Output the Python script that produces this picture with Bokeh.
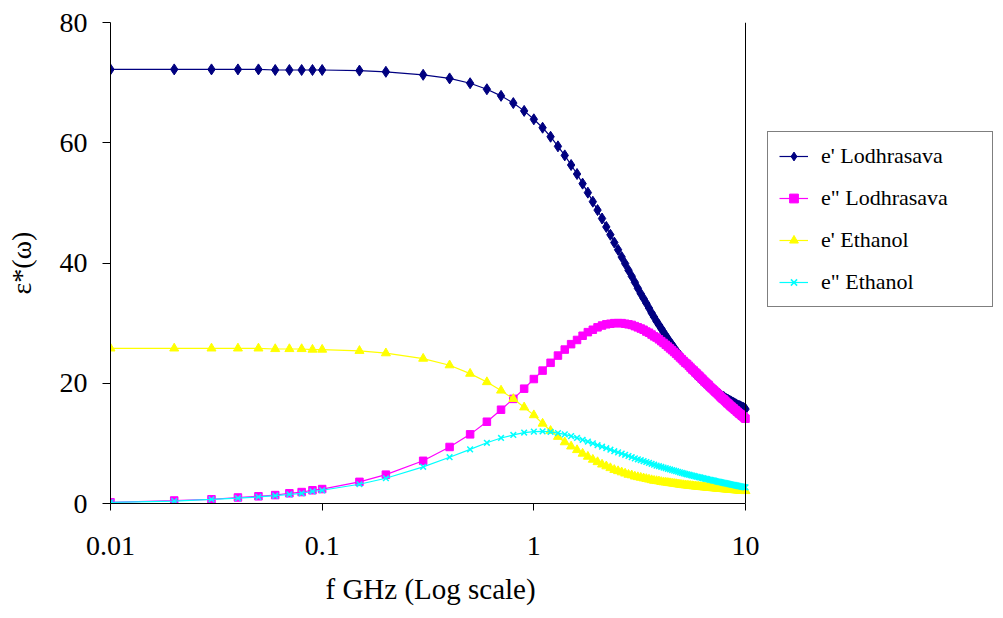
from bokeh.plotting import figure
from bokeh.models import (Range1d, FixedTicker, Legend, LegendItem, Span, ColumnDataSource, Title)
from bokeh.embed import file_html
from bokeh.resources import INLINE

# ---------------- data ----------------
freq = [0.01, 0.02, 0.03, 0.04, 0.05, 0.06, 0.07, 0.08, 0.09, 0.1,
        0.15, 0.2, 0.3, 0.4, 0.5, 0.6, 0.7, 0.8, 0.9, 1.0,
        1.1, 1.2, 1.3, 1.4, 1.5, 1.6, 1.7, 1.8, 1.9, 2.0,
        2.1, 2.2, 2.3, 2.4, 2.5, 2.6, 2.7, 2.8, 2.9, 3.0,
        3.1, 3.2, 3.3, 3.4, 3.5, 3.6, 3.7, 3.8, 3.9, 4.0,
        4.1, 4.2, 4.3, 4.4, 4.5, 4.6, 4.7, 4.8, 4.9, 5.0,
        5.1, 5.2, 5.3, 5.4, 5.5, 5.6, 5.7, 5.8, 5.9, 6.0,
        6.1, 6.2, 6.3, 6.4, 6.5, 6.6, 6.7, 6.8, 6.9, 7.0,
        7.1, 7.2, 7.3, 7.4, 7.5, 7.6, 7.7, 7.8, 7.9, 8.0,
        8.1, 8.2, 8.3, 8.4, 8.5, 8.6, 8.7, 8.8, 8.9, 9.0,
        9.1, 9.2, 9.3, 9.4, 9.5, 9.6, 9.7, 9.8, 9.9, 10.0]

e1_lodhrasava = [72.2, 72.2, 72.2, 72.2, 72.2, 72.1, 72.1, 72.1, 72.1, 72.1,
                 72.0, 71.8, 71.3, 70.7, 69.9, 68.9, 67.8, 66.6, 65.3, 63.9,
                 62.5, 61.0, 59.4, 57.9, 56.3, 54.8, 53.2, 51.7, 50.2, 48.8,
                 47.4, 46.0, 44.7, 43.4, 42.2, 41.0, 39.9, 38.8, 37.8, 36.8,
                 35.8, 34.9, 34.1, 33.3, 32.5, 31.7, 31.0, 30.3, 29.7, 29.1,
                 28.5, 27.9, 27.4, 26.8, 26.4, 25.9, 25.4, 25.0, 24.6, 24.2,
                 23.8, 23.5, 23.1, 22.8, 22.5, 22.2, 21.9, 21.6, 21.3, 21.1,
                 20.8, 20.6, 20.4, 20.1, 19.9, 19.7, 19.5, 19.3, 19.2, 19.0,
                 18.8, 18.7, 18.5, 18.3, 18.2, 18.1, 17.9, 17.8, 17.7, 17.5,
                 17.4, 17.3, 17.2, 17.1, 17.0, 16.9, 16.8, 16.7, 16.6, 16.5,
                 16.4, 16.3, 16.2, 16.2, 16.1, 16.0, 15.9, 15.9, 15.8, 15.7]

e2_lodhrasava = [0.2, 0.5, 0.7, 1.0, 1.2, 1.4, 1.7, 1.9, 2.2, 2.4,
                 3.6, 4.8, 7.1, 9.4, 11.5, 13.6, 15.6, 17.4, 19.1, 20.7,
                 22.1, 23.4, 24.6, 25.6, 26.5, 27.2, 27.9, 28.5, 28.9, 29.3,
                 29.6, 29.8, 29.9, 30.0, 30.0, 30.0, 29.9, 29.8, 29.7, 29.5,
                 29.3, 29.1, 28.9, 28.6, 28.4, 28.1, 27.8, 27.6, 27.3, 27.0,
                 26.7, 26.4, 26.1, 25.8, 25.5, 25.2, 24.9, 24.6, 24.3, 24.0,
                 23.7, 23.4, 23.2, 22.9, 22.6, 22.3, 22.1, 21.8, 21.6, 21.3,
                 21.1, 20.8, 20.6, 20.3, 20.1, 19.9, 19.7, 19.4, 19.2, 19.0,
                 18.8, 18.6, 18.4, 18.2, 18.0, 17.8, 17.6, 17.4, 17.3, 17.1,
                 16.9, 16.7, 16.6, 16.4, 16.2, 16.1, 15.9, 15.8, 15.6, 15.5,
                 15.3, 15.2, 15.0, 14.9, 14.8, 14.6, 14.5, 14.4, 14.2, 14.1]

e1_ethanol = [25.8, 25.8, 25.8, 25.8, 25.8, 25.7, 25.7, 25.7, 25.6, 25.6,
              25.4, 25.0, 24.1, 23.0, 21.6, 20.2, 18.8, 17.4, 16.0, 14.7,
              13.3, 12.1, 11.1, 10.2, 9.5, 8.9, 8.3, 7.8, 7.3, 6.9,
              6.5, 6.2, 5.9, 5.6, 5.4, 5.2, 5.0, 4.8, 4.7, 4.5,
              4.4, 4.3, 4.2, 4.1, 4.0, 3.9, 3.8, 3.75, 3.7, 3.6,
              3.55, 3.5, 3.45, 3.4, 3.35, 3.3, 3.25, 3.2, 3.15, 3.1,
              3.07, 3.04, 3.0, 2.97, 2.94, 2.91, 2.88, 2.85, 2.82, 2.8,
              2.77, 2.75, 2.72, 2.7, 2.68, 2.65, 2.63, 2.61, 2.59, 2.57,
              2.55, 2.53, 2.51, 2.49, 2.47, 2.45, 2.43, 2.42, 2.4, 2.38,
              2.36, 2.35, 2.33, 2.31, 2.3, 2.28, 2.27, 2.25, 2.24, 2.22,
              2.21, 2.19, 2.18, 2.16, 2.15, 2.14, 2.12, 2.11, 2.1, 2.08]

e2_ethanol = [0.2, 0.4, 0.7, 0.9, 1.1, 1.3, 1.5, 1.7, 2.0, 2.2,
              3.2, 4.2, 6.1, 7.7, 9.0, 10.1, 10.9, 11.4, 11.8, 11.95,
              12.0, 11.9, 11.7, 11.5, 11.2, 10.9, 10.6, 10.3, 10.0, 9.7,
              9.45, 9.2, 8.95, 8.7, 8.5, 8.3, 8.1, 7.9, 7.7, 7.5,
              7.35, 7.2, 7.05, 6.9, 6.75, 6.6, 6.45, 6.3, 6.2, 6.1,
              5.98, 5.87, 5.76, 5.66, 5.56, 5.46, 5.37, 5.28, 5.19, 5.1,
              5.02, 4.94, 4.86, 4.79, 4.72, 4.65, 4.58, 4.51, 4.45, 4.39,
              4.33, 4.27, 4.21, 4.15, 4.1, 4.04, 3.99, 3.94, 3.89, 3.84,
              3.79, 3.74, 3.69, 3.65, 3.6, 3.56, 3.51, 3.47, 3.43, 3.39,
              3.35, 3.31, 3.27, 3.23, 3.19, 3.15, 3.12, 3.08, 3.04, 3.01,
              2.97, 2.94, 2.9, 2.87, 2.84, 2.8, 2.77, 2.74, 2.71, 2.68]

series_labels = ["e' Lodhrasava", 'e" Lodhrasava', "e' Ethanol", 'e" Ethanol']

x_ticks = [0.01, 0.1, 1, 10]
x_tick_labels = ["0.01", "0.1", "1", "10"]
y_ticks = [0, 20, 40, 60, 80]

x_title = "f GHz (Log scale)"
y_title = "ε*(ω)"

# ---------------- layout (pixels) ----------------
W, H = 1003, 618
FRAME_L, AXIS_R, FRAME_R = 110, 745, 1001   # axis spans FRAME_L..AXIS_R
FRAME_T, FRAME_B = 22, 503
XTITLE_L = 325
x_start, x_axis_end = x_ticks[0], x_ticks[-1]
decades = 3.0  # 0.01 .. 10
px_per_decade = (AXIS_R - FRAME_L) / decades
x_end = x_axis_end * 10 ** ((FRAME_R - AXIS_R) / px_per_decade)

FONT = "Liberation Serif"

p = figure(width=W, height=H, x_axis_type="log",
           x_range=Range1d(x_start, x_end), y_range=Range1d(0, 80),
           output_backend="svg", toolbar_location=None,
           min_border_left=FRAME_L, min_border_right=W - FRAME_R,
           min_border_top=FRAME_T, min_border_bottom=H - FRAME_B)
p.outline_line_color = None
p.background_fill_color = "white"
p.border_fill_color = "white"
p.xgrid.visible = False
p.ygrid.visible = False

# right border of the plot area
p.add_layout(Span(location=x_axis_end, dimension="height", line_color="black", line_width=1))

xa = p.xaxis[0]
xa.bounds = (x_start, x_axis_end)
xa.ticker = FixedTicker(ticks=x_ticks, minor_ticks=[])
xa.major_label_overrides = dict(zip(x_ticks, x_tick_labels))
xa.major_tick_out = 7
xa.major_tick_in = 0
xa.minor_tick_out = 0
xa.minor_tick_in = 0
xa.axis_line_color = "black"
xa.major_tick_line_color = "black"
xa.major_label_text_font = FONT
xa.major_label_text_font_size = "28px"
xa.major_label_text_color = "black"
xa.major_label_standoff = 26

# x-axis title, placed under the bounded axis
xt = Title(text=x_title, align="left", offset=XTITLE_L - FRAME_L,
           text_font=FONT, text_font_size="29px", text_font_style="normal",
           text_color="black", standoff=26)
p.add_layout(xt, "below")

ya = p.yaxis[0]
ya.ticker = FixedTicker(ticks=y_ticks, minor_ticks=[])
ya.major_tick_out = 8
ya.major_tick_in = 0
ya.minor_tick_out = 0
ya.minor_tick_in = 0
ya.axis_line_color = "black"
ya.major_tick_line_color = "black"
ya.major_label_text_font = FONT
ya.major_label_text_font_size = "28px"
ya.major_label_text_color = "black"
ya.major_label_standoff = 15
ya.axis_label = y_title
ya.axis_label_text_font = FONT
ya.axis_label_text_font_size = "28px"
ya.axis_label_text_font_style = "normal"
ya.axis_label_text_color = "black"
ya.axis_label_standoff = 20

src = ColumnDataSource(dict(f=freq, a=e1_lodhrasava, b=e2_lodhrasava,
                            c=e1_ethanol, d=e2_ethanol))

items = []
# e' Lodhrasava
l1 = p.line("f", "a", source=src, line_color="#000080", line_width=1.2)
s1 = p.scatter("f", "a", source=src, marker="diamond", size=11,
               fill_color="#000080", line_color="#000080")
items.append(LegendItem(label=series_labels[0], renderers=[l1, s1]))
# e" Lodhrasava
l2 = p.line("f", "b", source=src, line_color="#FF00FF", line_width=1.2)
s2 = p.scatter("f", "b", source=src, marker="square", size=7.5,
               fill_color="#FF00FF", line_color="#FF00FF")
items.append(LegendItem(label=series_labels[1], renderers=[l2, s2]))
# e' Ethanol
l3 = p.line("f", "c", source=src, line_color="#FFFF00", line_width=1.2)
s3 = p.scatter("f", "c", source=src, marker="triangle", size=9,
               fill_color="#FFFF00", line_color="#FFFF00")
items.append(LegendItem(label=series_labels[2], renderers=[l3, s3]))
# e" Ethanol
l4 = p.line("f", "d", source=src, line_color="#00FFFF", line_width=1.2)
s4 = p.scatter("f", "d", source=src, marker="x", size=8,
               line_color="#00FFFF", line_width=1.5)
items.append(LegendItem(label=series_labels[3], renderers=[l4, s4]))

LEG_L, LEG_B = 767, 307
legend = Legend(items=items, location=(LEG_L - FRAME_L, FRAME_B - LEG_B),
                label_text_font=FONT, label_text_font_size="22px",
                label_text_color="black",
                border_line_color="black", border_line_width=1,
                background_fill_color="white", background_fill_alpha=1.0,
                padding=11, spacing=16, margin=0,
                glyph_width=29, glyph_height=22, label_height=22,
                label_standoff=13, label_width=160)
p.add_layout(legend, "center")

open("out.html", "w").write(file_html(p, INLINE))
